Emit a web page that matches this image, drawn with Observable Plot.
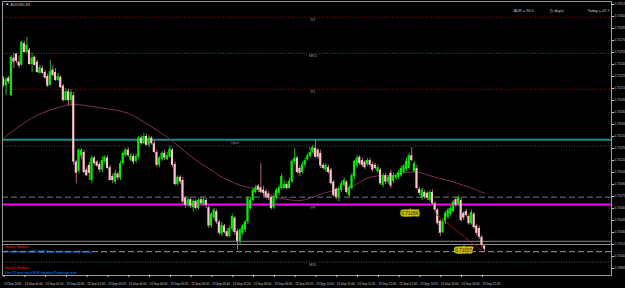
<!DOCTYPE html>
<html><head><meta charset="utf-8">
<script src="https://cdn.jsdelivr.net/npm/d3@7"></script>
<script src="https://cdn.jsdelivr.net/npm/@observablehq/plot@0.6"></script>
<style>
html,body{margin:0;padding:0;background:#000;}
#chart{width:625px;height:288px;overflow:hidden;}
</style></head><body><div id="chart"></div>
<script>
const symbol = "AUDUSD,M5";
const open = [
0.71223,0.71213,0.71223,0.71201,0.71248,0.71253,0.71243,0.71239,0.71266,0.71255,
0.71258,0.71240,0.71249,0.71243,0.71229,0.71235,0.71230,0.71225,0.71214,0.71233,
0.71230,0.71220,0.71224,0.71213,0.71195,0.71206,0.71195,0.71201,0.71118,0.71106,
0.71126,0.71130,0.71108,0.71114,0.71095,0.71123,0.71118,0.71115,0.71108,0.71118,
0.71123,0.71111,0.71100,0.71093,0.71103,0.71098,0.71116,0.71126,0.71133,0.71120,
0.71125,0.71119,0.71124,0.71148,0.71141,0.71150,0.71139,0.71148,0.71141,0.71130,
0.71114,0.71121,0.71129,0.71121,0.71124,0.71133,0.71115,0.71090,0.71099,0.71095,
0.71073,0.71064,0.71071,0.71061,0.71069,0.71060,0.71071,0.71065,0.71070,0.71061,
0.71038,0.71048,0.71056,0.71043,0.71028,0.71038,0.71031,0.71025,0.71034,0.71048,
0.71031,0.71019,0.71029,0.71033,0.71043,0.71060,0.71070,0.71080,0.71088,0.71086,
0.71083,0.71081,0.71078,0.71074,0.71061,0.71074,0.71079,0.71085,0.71085,0.71090,
0.71085,0.71093,0.71118,0.71123,0.71110,0.71105,0.71114,0.71121,0.71125,0.71130,
0.71135,0.71133,0.71129,0.71114,0.71108,0.71111,0.71108,0.71093,0.71084,0.71074,
0.71083,0.71089,0.71093,0.71076,0.71085,0.71100,0.71113,0.71124,0.71120,0.71118,
0.71115,0.71120,0.71115,0.71114,0.71106,0.71108,0.71089,0.71101,0.71093,0.71104,
0.71094,0.71098,0.71099,0.71101,0.71105,0.71109,0.71110,0.71126,0.71106,0.71110,
0.71084,0.71073,0.71080,0.71079,0.71070,0.71080,0.71066,0.71058,0.71044,0.71030,
0.71043,0.71049,0.71053,0.71056,0.71071,0.71065,0.71070,0.71054,0.71056,0.71050,
0.71041,0.71053,0.71038,0.71035,0.71024,0.71013];
const close = [
0.71214,0.71221,0.71218,0.71249,0.71243,0.71244,0.71238,0.71268,0.71255,0.71264,
0.71240,0.71248,0.71239,0.71230,0.71236,0.71229,0.71223,0.71213,0.71231,0.71226,
0.71220,0.71225,0.71211,0.71195,0.71206,0.71195,0.71205,0.71118,0.71104,0.71133,
0.71133,0.71105,0.71101,0.71104,0.71123,0.71116,0.71113,0.71108,0.71120,0.71124,
0.71110,0.71095,0.71095,0.71104,0.71098,0.71116,0.71129,0.71133,0.71126,0.71126,
0.71118,0.71125,0.71148,0.71141,0.71150,0.71139,0.71148,0.71141,0.71130,0.71114,
0.71123,0.71129,0.71123,0.71126,0.71134,0.71114,0.71090,0.71099,0.71093,0.71068,
0.71064,0.71071,0.71063,0.71069,0.71060,0.71070,0.71066,0.71071,0.71064,0.71038,
0.71053,0.71058,0.71043,0.71029,0.71039,0.71030,0.71025,0.71035,0.71050,0.71030,
0.71019,0.71033,0.71038,0.71043,0.71073,0.71070,0.71083,0.71086,0.71083,0.71080,
0.71079,0.71074,0.71073,0.71060,0.71075,0.71083,0.71086,0.71100,0.71090,0.71085,
0.71094,0.71119,0.71123,0.71105,0.71104,0.71115,0.71120,0.71126,0.71130,0.71136,
0.71124,0.71124,0.71113,0.71110,0.71114,0.71105,0.71091,0.71076,0.71074,0.71085,
0.71091,0.71095,0.71080,0.71086,0.71101,0.71119,0.71123,0.71116,0.71114,0.71111,
0.71120,0.71114,0.71108,0.71110,0.71111,0.71091,0.71101,0.71093,0.71099,0.71088,
0.71101,0.71101,0.71105,0.71110,0.71113,0.71119,0.71126,0.71120,0.71116,0.71085,
0.71079,0.71083,0.71074,0.71073,0.71080,0.71066,0.71058,0.71041,0.71029,0.71044,
0.71054,0.71058,0.71060,0.71068,0.71064,0.71073,0.71045,0.71048,0.71051,0.71041,
0.71055,0.71036,0.71029,0.71024,0.71014,0.71009];
const high = [
0.71225,0.71224,0.71225,0.71251,0.71254,0.71254,0.71251,0.71269,0.71269,0.71274,
0.71260,0.71254,0.71251,0.71245,0.71239,0.71238,0.71233,0.71228,0.71245,0.71239,
0.71235,0.71229,0.71226,0.71215,0.71210,0.71209,0.71208,0.71205,0.71120,0.71135,
0.71135,0.71133,0.71111,0.71118,0.71126,0.71125,0.71120,0.71118,0.71125,0.71126,
0.71126,0.71114,0.71103,0.71108,0.71105,0.71119,0.71131,0.71135,0.71136,0.71129,
0.71128,0.71128,0.71150,0.71151,0.71154,0.71153,0.71151,0.71150,0.71145,0.71133,
0.71125,0.71131,0.71133,0.71130,0.71138,0.71135,0.71118,0.71101,0.71101,0.71099,
0.71075,0.71074,0.71074,0.71071,0.71071,0.71073,0.71074,0.71075,0.71073,0.71064,
0.71055,0.71060,0.71059,0.71045,0.71043,0.71040,0.71035,0.71038,0.71053,0.71050,
0.71034,0.71035,0.71040,0.71045,0.71075,0.71073,0.71085,0.71089,0.71090,0.71116,
0.71088,0.71084,0.71081,0.71076,0.71079,0.71085,0.71089,0.71103,0.71095,0.71093,
0.71098,0.71121,0.71135,0.71125,0.71113,0.71118,0.71123,0.71129,0.71133,0.71139,
0.71145,0.71135,0.71133,0.71116,0.71116,0.71114,0.71110,0.71095,0.71086,0.71088,
0.71094,0.71098,0.71095,0.71089,0.71104,0.71120,0.71126,0.71126,0.71123,0.71120,
0.71123,0.71123,0.71118,0.71116,0.71114,0.71110,0.71104,0.71104,0.71101,0.71108,
0.71104,0.71104,0.71108,0.71113,0.71115,0.71123,0.71129,0.71136,0.71119,0.71114,
0.71086,0.71085,0.71083,0.71081,0.71083,0.71083,0.71069,0.71060,0.71046,0.71048,
0.71056,0.71060,0.71063,0.71070,0.71074,0.71076,0.71073,0.71056,0.71059,0.71053,
0.71058,0.71055,0.71040,0.71038,0.71026,0.71015];
const low = [
0.71211,0.71201,0.71215,0.71200,0.71235,0.71241,0.71235,0.71238,0.71254,0.71253,
0.71239,0.71230,0.71238,0.71229,0.71228,0.71228,0.71221,0.71211,0.71213,0.71225,
0.71219,0.71219,0.71210,0.71193,0.71194,0.71188,0.71188,0.71114,0.71091,0.71103,
0.71121,0.71103,0.71100,0.71095,0.71091,0.71114,0.71111,0.71105,0.71105,0.71115,
0.71109,0.71094,0.71091,0.71090,0.71095,0.71095,0.71114,0.71124,0.71124,0.71118,
0.71115,0.71116,0.71121,0.71139,0.71140,0.71138,0.71136,0.71139,0.71129,0.71111,
0.71111,0.71119,0.71120,0.71120,0.71123,0.71111,0.71088,0.71088,0.71090,0.71065,
0.71060,0.71061,0.71060,0.71055,0.71058,0.71058,0.71064,0.71063,0.71060,0.71035,
0.71035,0.71045,0.71040,0.71026,0.71025,0.71028,0.71023,0.71023,0.71031,0.71026,
0.71008,0.71015,0.71026,0.71030,0.71040,0.71058,0.71068,0.71078,0.71080,0.71078,
0.71075,0.71071,0.71070,0.71058,0.71059,0.71071,0.71076,0.71083,0.71084,0.71083,
0.71084,0.71091,0.71115,0.71103,0.71100,0.71103,0.71111,0.71119,0.71123,0.71128,
0.71123,0.71121,0.71110,0.71108,0.71105,0.71103,0.71089,0.71074,0.71071,0.71068,
0.71080,0.71086,0.71078,0.71074,0.71083,0.71096,0.71110,0.71114,0.71111,0.71109,
0.71113,0.71111,0.71105,0.71108,0.71104,0.71089,0.71086,0.71090,0.71090,0.71085,
0.71091,0.71095,0.71096,0.71099,0.71103,0.71106,0.71108,0.71118,0.71105,0.71083,
0.71076,0.71070,0.71071,0.71070,0.71068,0.71064,0.71055,0.71039,0.71025,0.71028,
0.71040,0.71046,0.71050,0.71055,0.71061,0.71063,0.71043,0.71045,0.71049,0.71039,
0.71039,0.71034,0.71026,0.71021,0.71011,0.71006];

// moving average, read at sample bars
const maBars = [0,12,23,27,37,48,55,63,68,75,80,83,91,99,105,114,118,123,128,133,140,145,150,155,160,164,171,177,182,185];
const maValues = [0.71148,0.71175,0.71188,0.71190,0.71186,0.71179,0.71166,0.71149,0.71136,0.71118,0.71108,0.71101,0.71089,0.71083,0.71074,0.71070,0.71073,0.71079,0.71083,0.71086,0.71098,0.71101,0.71101,0.71105,0.71105,0.71101,0.71095,0.71089,0.71083,0.71079];

// x-axis labels every 8 bars
const labelBars = [0,8,16,24,32,40,48,56,64,72,80,88,96,104,112,120,128,136,144,152,160,168,176,184];
const timeLabels = ["13 Sep 2018","13 Sep 00:40","13 Sep 01:20","13 Sep 02:00","13 Sep 02:40","13 Sep 03:20","13 Sep 04:00","13 Sep 04:40","13 Sep 05:20","13 Sep 06:00","13 Sep 06:40","13 Sep 07:20","13 Sep 08:00","13 Sep 08:40","13 Sep 09:20","13 Sep 10:00","13 Sep 10:40","13 Sep 11:20","13 Sep 12:00","13 Sep 12:40","13 Sep 13:20","13 Sep 14:00","13 Sep 14:40","13 Sep 15:20"];
const priceTicks = [0.70985,0.71000,0.71015,0.71030,0.71045,0.71060,0.71075,0.71090,0.71105,0.71120,0.71135,0.71150,0.71165,0.71180,0.71195,0.71210,0.71225,0.71240,0.71255,0.71270,0.71285,0.71300,0.71315];

// pivot levels
const resistNames = ["R2","R1"];
const resistPrices = [0.71299,0.71209];
const midNames = ["MR2","MR1","MS1"];
const midPrices = [0.71254,0.71138,0.70993];
const pivotName = "PP";
const pivotPrice = 0.71065;
const openName = "Open";
const openPrice = 0.71146;
const dashedPrice = 0.71074;
const greyPrices = [0.71019,0.71015];
const bidPrice = 0.71006;
const axisTagPrices = [0.71074,0.71015,0.71006];

// trend line with its price tags
const trendBars = [166,184];
const trendPrices = [0.71054,0.71007];

const adrText = ["ADR = 96.0","(5 days)","Today = 42.7"];
const impactText = ["Impact: Medium","Impact: Medium"];
const eventText = ["4 hrs 14 mins until AUD NAB Business Confidence (Quarterly)","1 hrs 21 mins since EUR Industrial Production m/m"];

const bars = open.map((o,i)=>({i, o, c: close[i], h: high[i], l: low[i]}));
const up = bars.filter(d=>d.c>=d.o);
const dn = bars.filter(d=>d.c<d.o);
const ma = maBars.map((b,k)=>({b, v: maValues[k]}));
const trend = trendBars.map((b,k)=>({b, v: trendPrices[k]}));
const fmt = d3.format(".5f");
const labelBarX = 119, openLabelX = 89;
const tagStyle = {textAnchor: "end", fontSize: 4.6, fill: "#1a1a00", stroke: "#c8c000", strokeWidth: 3, strokeLinejoin: "miter", paintOrder: "stroke", lineAnchor: "middle"};

const plot = Plot.plot({
  width: 625, height: 288,
  marginLeft: 2, marginRight: 14, marginTop: 1, marginBottom: 13,
  style: {background: "#000", color: "#c8c8c8", fontFamily: "'Liberation Sans', Arial, sans-serif"},
  x: {domain: [-1/2.6, 608/2.6]},
  y: {domain: [0.7097625, 0.7131875]},
  marks: [
    // levels
    Plot.ruleY(resistPrices, {stroke: "#8e1414", strokeDasharray: "1,1.6"}),
    Plot.ruleY(midPrices, {stroke: "#2f5a44", strokeDasharray: "1,1.6"}),
    Plot.ruleY([openPrice], {stroke: "#1c8c8c", strokeWidth: 2}),
    Plot.ruleY([dashedPrice], {stroke: "#4c4c60", strokeWidth: 1.5, strokeDasharray: "6,3"}),
    Plot.ruleY(greyPrices, {stroke: "#8a8a8a", strokeWidth: 1}),
    Plot.ruleY([bidPrice], {stroke: "#9a9aa4", strokeWidth: 1, strokeDasharray: "6,3"}),
    Plot.ruleY([pivotPrice], {stroke: "#ff00ff", strokeWidth: 2}),
    // level labels
    Plot.text(resistNames, {x: () => labelBarX, y: (d,k) => resistPrices[k], text: d=>d, dy: 3, fontSize: 3.6, fill: "#9a9a9a", lineAnchor: "middle"}),
    Plot.text(midNames, {x: () => labelBarX, y: (d,k) => midPrices[k], text: d=>d, dy: 3, fontSize: 3.6, fill: "#9a9a9a", lineAnchor: "middle"}),
    Plot.text([pivotName], {x: () => labelBarX, y: () => pivotPrice, text: d=>d, dy: 3, fontSize: 3.6, fill: "#9a9a9a", lineAnchor: "middle"}),
    Plot.text([openName], {x: () => openLabelX, y: () => openPrice, text: d=>d, dy: 3, fontSize: 3.6, fill: "#9a9a9a", lineAnchor: "middle"}),
    // moving average
    Plot.line(ma, {x: "b", y: "v", stroke: "#7e3050", strokeWidth: 1, curve: "catmull-rom"}),
    // candles
    Plot.ruleX(up, {x: "i", y1: "l", y2: "h", stroke: "#22b022", strokeWidth: 1}),
    Plot.ruleX(dn, {x: "i", y1: "l", y2: "h", stroke: "#b06878", strokeWidth: 1}),
    Plot.rect(up, {x1: d=>d.i-0.4, x2: d=>d.i+0.4, y1: "o", y2: "c", fill: "#00f000"}),
    Plot.rect(dn, {x1: d=>d.i-0.4, x2: d=>d.i+0.4, y1: "o", y2: "c", fill: "#ffc4cc"}),
    // trend line
    Plot.line(trend, {x: "b", y: "v", stroke: "#b01818", strokeWidth: 1, strokeDasharray: "1.2,1.2"}),
    Plot.text([trend[0]], {x: "b", y: "v", text: d=>fmt(d.v), dx: -17, ...tagStyle}),
    Plot.text([trend[1]], {x: "b", y: "v", text: d=>fmt(d.v), dx: -10, ...tagStyle}),
    // axes and frame
    Plot.frame({stroke: "#9a9a9a"}),
    Plot.axisY({anchor: "right", ticks: priceTicks, tickFormat: fmt, tickSize: 2, tickPadding: 1, fontSize: 3, label: null}),
    Plot.axisX({ticks: labelBars, tickFormat: i => timeLabels[labelBars.indexOf(i)], textAnchor: "start", dx: 0.5, tickSize: 2, tickPadding: 5, fontSize: 3, label: null}),
    Plot.text(axisTagPrices, {y: d=>d, text: fmt, frameAnchor: "right", dx: 3, textAnchor: "start", fontSize: 3, fill: "#102040", lineAnchor: "middle", ariaLabel: "atag"}),
    // HUD texts
    Plot.text(["\u25A0"], {text: d=>d, frameAnchor: "top-left", dx: 4, dy: 3, fontSize: 3, fill: "#ffffff", textAnchor: "start", lineAnchor: "middle"}),
    Plot.text([symbol], {text: d=>d, frameAnchor: "top-left", dx: 8, dy: 3, fontSize: 3.4, fill: "#c8c8c8", textAnchor: "start", lineAnchor: "middle"}),
    Plot.text([adrText[0]], {text: d=>d, frameAnchor: "top-right", dx: -78, dy: 9, fontSize: 3.8, fill: "#c8c8c8", textAnchor: "end", lineAnchor: "middle"}),
    Plot.text([adrText[1]], {text: d=>d, frameAnchor: "top-right", dx: -48, dy: 9, fontSize: 3.8, fill: "#c8c8c8", textAnchor: "end", lineAnchor: "middle"}),
    Plot.text([adrText[2]], {text: d=>d, frameAnchor: "top-right", dx: -2, dy: 9, fontSize: 3.8, fill: "#c8c8c8", textAnchor: "end", lineAnchor: "middle"}),
    Plot.text([impactText[0]], {text: d=>d, frameAnchor: "bottom-left", dx: 2, dy: -29, fontSize: 3.2, fill: "#dd0000", textAnchor: "start", lineAnchor: "middle", fontWeight: "bold"}),
    Plot.text([eventText[0]], {text: d=>d, frameAnchor: "bottom-left", dx: 2, dy: -24, fontSize: 3.2, fill: "#1e90ff", textAnchor: "start", lineAnchor: "middle"}),
    Plot.text([impactText[1]], {text: d=>d, frameAnchor: "bottom-left", dx: 2, dy: -7.5, fontSize: 3.2, fill: "#dd0000", textAnchor: "start", lineAnchor: "middle", fontWeight: "bold"}),
    Plot.text([eventText[1]], {text: d=>d, frameAnchor: "bottom-left", dx: 2, dy: -3, fontSize: 3.2, fill: "#1e90ff", textAnchor: "start", lineAnchor: "middle"})
  ]
});
document.getElementById("chart").append(plot);

function boxify(label, fills, pad) {
  d3.select(plot).selectAll(`g[aria-label="${label}"] text`).each(function(d, k) {
    const b = this.getBBox();
    d3.select(this.parentNode).insert("rect", () => this)
      .attr("x", b.x - pad).attr("y", b.y - 0.2)
      .attr("width", b.width + 2 * pad).attr("height", b.height + 0.4)
      .attr("transform", this.getAttribute("transform"))
      .attr("fill", fills[k % fills.length]);
  });
}
boxify("atag", ["#bccce4", "#f0f0f0", "#a4c2ea"], 0.4);
</script>
</body></html>
